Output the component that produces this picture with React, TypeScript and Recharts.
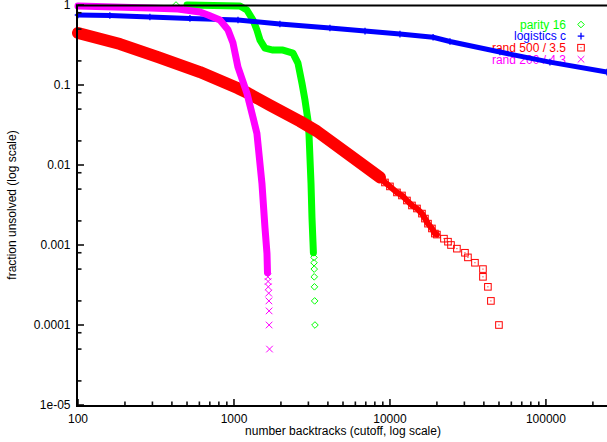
import React from "react";
import { ScatterChart, Scatter, XAxis, YAxis } from "recharts";

type Pt = [number, number];

// number of backtracks (cutoff) -> fraction of instances still unsolved
const parityBand: Pt[] = [
  [500, 1], [1092, 0.97], [1210, 0.866], [1324, 0.649], [1403, 0.486], [1469, 0.364],
  [1580, 0.289], [1779, 0.273], [2061, 0.273], [2388, 0.25], [2572, 0.188], [2729, 0.105],
  [2853, 0.0645], [2981, 0.0363], [3025, 0.0249], [3118, 0.0059], [3163, 0.0022],
  [3209, 0.0011], [3230, 0.0008],
];
const parityTail: Pt[] = [
  [425, 1], [3258, 0.0007], [3258, 0.0006], [3270, 0.0005], [3270, 0.0004],
  [3280, 0.0003], [3290, 0.0002], [3305, 0.0001],
];

const logisticsPts: Pt[] = [
  [100, 0.75], [160, 0.74], [289, 0.707], [522, 0.68], [1061, 0.649], [1970, 0.578],
  [4122, 0.515], [6920, 0.472], [11590, 0.433], [18900, 0.395], [24250, 0.35],
  [50700, 0.258], [106100, 0.193], [246000, 0.145],
];

const rand500Band: Pt[] = [
  [100, 0.446], [186, 0.325], [326, 0.223], [605, 0.145], [1061, 0.091], [1230, 0.079],
  [1700, 0.0558], [2649, 0.0352], [3404, 0.0264], [5540, 0.0132], [8630, 0.007],
];
const rand500Mid: Pt[] = [
  [8630, 0.007], [9290, 0.00605], [10000, 0.0054], [11090, 0.00454], [11940, 0.00416],
  [12850, 0.0036], [13840, 0.00312], [14900, 0.00286], [16040, 0.00247], [16760, 0.00214],
  [17530, 0.00185], [18580, 0.00161], [19410, 0.00139], [20000, 0.00135],
];
const rand500Tail: Pt[] = [
  [22190, 0.0012], [23550, 0.0011], [24620, 0.001], [26870, 0.0009], [30260, 0.0008],
  [31620, 0.0007], [35070, 0.0006], [39470, 0.0005], [39470, 0.0004], [42460, 0.0003],
  [44380, 0.0002], [49980, 0.0001],
];

const rand200Band: Pt[] = [
  [100, 0.97], [289, 0.917], [438, 0.891], [605, 0.817], [681, 0.75], [813, 0.649],
  [915, 0.49], [986, 0.334], [1061, 0.167], [1210, 0.079], [1324, 0.0395], [1403, 0.0249],
  [1511, 0.0059], [1580, 0.00165], [1628, 0.00078], [1640, 0.00045],
];
const rand200Tail: Pt[] = [
  [1650, 0.0004], [1655, 0.00035], [1660, 0.0003], [1670, 0.00025], [1675, 0.0002],
  [1680, 0.00015], [1680, 0.0001], [1690, 0.00005],
];

const seriesNames = ["parity 16", "logistics c", "rand 500 / 3.5", "rand 200 / 4.3"];
const seriesColors = ["#00ff00", "#0000ff", "#ff0000", "#ff00ff"];
const seriesMarks = ["diamond", "plus", "square", "cross"];

const xMajor = [100, 1000, 10000, 100000];
const xLabels = ["100", "1000", "10000", "100000"];
const yMajor = [1, 0.1, 0.01, 0.001, 0.0001, 0.00001];
const yLabels = ["1", "0.1", "0.01", "0.001", "0.0001", "1e-05"];
const xSteps = [2, 3, 4, 5, 6, 7, 8, 9];
const ySteps = [2, 5, 8];

const X_MAX = 250000;
const FONT = "'Liberation Sans', Arial, Helvetica, sans-serif";
const W = 607;
const H = 442;
// plot frame (gnuplot border)
const LEFT = 78;
const TOP = 5;
const BOTTOM = 405;

const xMinor = xMajor.flatMap((d) => xSteps.map((m) => d * m)).filter((v) => v < X_MAX);
const yMinor = yMajor.slice(1).flatMap((d) => ySteps.map((m) => d * m));
const xTicks = [...xMajor, ...xMinor];
const yTicks = [...yMajor, ...yMinor];

const toXY = (pts: Pt[]) => pts.map(([x, y]) => ({ x, y }));
const findMajor = (arr: number[], v: number) =>
  arr.findIndex((a) => Math.abs(a - v) / a < 1e-9);

const mark = (kind: string, c: string, cx: number, cy: number) => {
  const r = 3.3;
  if (kind === "diamond")
    return (
      <polygon
        points={`${cx},${cy - r} ${cx + r},${cy} ${cx},${cy + r} ${cx - r},${cy}`}
        fill="none"
        stroke={c}
      />
    );
  if (kind === "plus")
    return (
      <g stroke={c} strokeWidth={1.3}>
        <line x1={cx - r} x2={cx + r} y1={cy} y2={cy} />
        <line x1={cx} x2={cx} y1={cy - r} y2={cy + r} />
      </g>
    );
  if (kind === "square")
    return (
      <g>
        <rect x={cx - r} y={cy - r} width={2 * r} height={2 * r} fill="none" stroke={c} />
        <rect x={cx - 0.5} y={cy - 0.5} width={1} height={1} fill={c} />
      </g>
    );
  return (
    <g stroke={c}>
      <line x1={cx - r} x2={cx + r} y1={cy - r} y2={cy + r} />
      <line x1={cx - r} x2={cx + r} y1={cy + r} y2={cy - r} />
    </g>
  );
};

const shapeOf = (i: number) => (p: any) => mark(seriesMarks[i], seriesColors[i], p.cx, p.cy);
const none = () => <g />;
const band = (c: string, w: number) => ({
  stroke: c,
  strokeWidth: w,
  strokeLinejoin: "round" as const,
  strokeLinecap: "round" as const,
});

const tickText = { fontSize: 12, fontFamily: FONT, fill: "#000" };
const LW = 2; // frame thickness
const TW = 1.6; // tick thickness

const bottomTick = (p: any) => {
  const i = findMajor(xMajor, p.payload.value);
  const len = i >= 0 ? 6 : 3.5;
  return (
    <g>
      <rect x={p.x - TW / 2} y={BOTTOM - len} width={TW} height={len} fill="#111" />
      {i >= 0 && (
        <text x={p.x} y={BOTTOM + 18} textAnchor="middle" {...tickText}>
          {xLabels[i]}
        </text>
      )}
    </g>
  );
};
const topTick = (p: any) => {
  const i = findMajor(xMajor, p.payload.value);
  const len = i >= 0 ? 6 : 3.5;
  return <rect x={p.x - TW / 2} y={TOP} width={TW} height={len} fill="#111" />;
};
const leftTick = (p: any) => {
  const i = findMajor(yMajor, p.payload.value);
  const len = i >= 0 ? 6 : 3.5;
  return (
    <g>
      <rect x={LEFT} y={p.y - TW / 2} width={len} height={TW} fill="#111" />
      {i >= 0 && (
        <text x={LEFT - 7.5} y={p.y + 4.3} textAnchor="end" {...tickText}>
          {yLabels[i]}
        </text>
      )}
    </g>
  );
};
const rightTick = (p: any) => {
  const i = findMajor(yMajor, p.payload.value);
  const len = i >= 0 ? 6 : 3.5;
  return <rect x={608 - len} y={p.y - TW / 2} width={len} height={TW} fill="#111" />;
};

export default function App() {
  return (
    <div style={{ position: "absolute", left: 0, top: 0, width: W, height: H, overflow: "hidden", background: "#fff" }}>
      <svg width={W} height={H} style={{ position: "absolute", left: 0, top: 0 }}>
        {seriesNames.map((n, i) => {
          const cy = 24.5 + i * 11.6;
          return (
            <g key={n}>
              <text x={566} y={cy + 4.3} textAnchor="end" fontSize={12} fontFamily={FONT} fill={seriesColors[i]}>
                {n}
              </text>
              {mark(seriesMarks[i], seriesColors[i], 581, cy)}
            </g>
          );
        })}
        <text x={343} y={435} textAnchor="middle" {...tickText}>
          number backtracks (cutoff, log scale)
        </text>
        <text transform="translate(16,205) rotate(-90)" textAnchor="middle" {...tickText}>
          fraction unsolved (log scale)
        </text>
      </svg>
      <div style={{ position: "absolute", left: 0, top: 0 }}>
        <ScatterChart width={610} height={H} margin={{ top: 0, right: 0, bottom: 0, left: 0 }}>
          <XAxis
            dataKey="x"
            type="number"
            scale="log"
            domain={[100, X_MAX]}
            ticks={xTicks}
            interval={0}
            height={H - BOTTOM}
            tickSize={0}
            tickMargin={0}
            tick={bottomTick}
            tickLine={false}
            axisLine={false}
          />
          <XAxis
            xAxisId="top"
            orientation="top"
            dataKey="x"
            type="number"
            scale="log"
            domain={[100, X_MAX]}
            ticks={xTicks}
            interval={0}
            height={TOP}
            tickSize={0}
            tickMargin={0}
            tick={topTick}
            tickLine={false}
            axisLine={false}
          />
          <YAxis
            dataKey="y"
            type="number"
            scale="log"
            domain={[0.00001, 1]}
            ticks={yTicks}
            interval={0}
            width={LEFT}
            tickSize={0}
            tickMargin={0}
            tick={leftTick}
            tickLine={false}
            axisLine={false}
          />
          <YAxis
            yAxisId="right"
            orientation="right"
            dataKey="y"
            type="number"
            scale="log"
            domain={[0.00001, 1]}
            ticks={yTicks}
            interval={0}
            width={2}
            tickSize={0}
            tickMargin={0}
            tick={rightTick}
            tickLine={false}
            axisLine={false}
          />

          <Scatter data={toXY(parityBand)} fill={seriesColors[0]} line={band(seriesColors[0], 7)} shape={none} isAnimationActive={false} />
          <Scatter data={toXY(parityTail)} fill={seriesColors[0]} shape={shapeOf(0)} isAnimationActive={false} />

          <Scatter data={toXY(logisticsPts)} fill={seriesColors[1]} line={band(seriesColors[1], 5)} shape={shapeOf(1)} isAnimationActive={false} />

          <Scatter data={toXY(rand500Band)} fill={seriesColors[2]} line={band(seriesColors[2], 12)} shape={none} isAnimationActive={false} />
          <Scatter data={toXY(rand500Mid)} fill={seriesColors[2]} line={band(seriesColors[2], 6)} shape={shapeOf(2)} isAnimationActive={false} />
          <Scatter data={toXY(rand500Tail)} fill={seriesColors[2]} shape={shapeOf(2)} isAnimationActive={false} />

          <Scatter data={toXY(rand200Band)} fill={seriesColors[3]} line={band(seriesColors[3], 7)} shape={none} isAnimationActive={false} />
          <Scatter data={toXY(rand200Tail)} fill={seriesColors[3]} shape={shapeOf(3)} isAnimationActive={false} />
        </ScatterChart>
      </div>
      <svg width={W} height={H} style={{ position: "absolute", left: 0, top: 0, pointerEvents: "none" }}>
        <rect x={LEFT - LW} y={TOP - 0.5} width={W} height={LW} fill="#000" />
        <rect x={LEFT - LW} y={TOP - 0.5} width={LW} height={BOTTOM - TOP + LW} fill="#000" />
        <rect x={LEFT - LW} y={BOTTOM} width={W} height={LW} fill="#000" />
      </svg>
    </div>
  );
}
